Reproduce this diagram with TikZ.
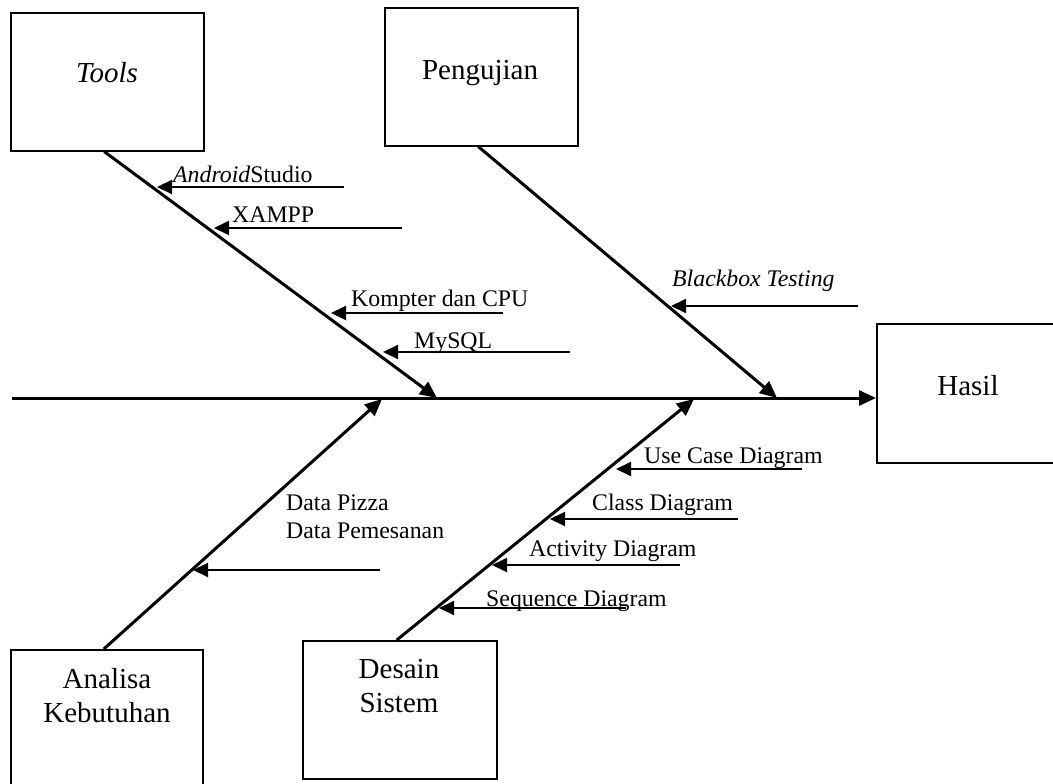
\documentclass[tikz,border=0pt]{standalone}
\usepackage{fontspec}
\setmainfont{Liberation Serif}
\usetikzlibrary{arrows.meta,calc}
\begin{document}
\begin{tikzpicture}[x=1pt,y=-1pt,
  box/.style={draw,line width=1.6pt,inner sep=0pt,anchor=north west},
  bone/.style={line width=3pt,-{Triangle[length=17pt,width=15pt]}},
  sub/.style={line width=2pt,-{Triangle[length=15pt,width=14pt]}},
  lbl/.style={font=\fontsize{23.8}{27}\selectfont,inner sep=0pt,anchor=base west},
  ttl/.style={font=\fontsize{29}{34}\selectfont,inner sep=0pt,anchor=base}]
\useasboundingbox (0,0) rectangle (1053,784);
\clip (0,0) rectangle (1053,784);

% boxes
\node[box,minimum width=193pt,minimum height=138pt] (tools) at (10,12) {};
\node[box,minimum width=193pt,minimum height=138pt] (peng) at (384,7) {};
\node[box,minimum width=190pt,minimum height=139pt] (hasil) at (876,323) {};
\node[box,minimum width=192pt,minimum height=160pt] (analisa) at (10,649) {};
\node[box,minimum width=194pt,minimum height=138pt] (desain) at (302,640) {};

% box texts
\node[ttl] (toolsT) at (107,83) {\itshape Tools};
\node[ttl] (pengT) at (480,80) {Pengujian};
\node[ttl] (hasilT) at (968,395) {Hasil};
\node[ttl] (analisaT1) at (107,688) {Analisa};
\node[ttl] (analisaT2) at (107,722) {Kebutuhan};
\node[ttl] (desainT1) at (399,678) {Desain};
\node[ttl] (desainT2) at (399,712) {Sistem};

% spine
\coordinate (sp) at (12,398);
\draw[bone] (sp) -- (sp -| hasil.west);

% main bones
\coordinate (tTip) at (437,398);
\coordinate (pTip) at (777,398);
\coordinate (aTip) at (382,399);
\coordinate (dTip) at (694,399);
\draw[bone] ($(tools.south)+(-3,0)$) -- (tTip);
\draw[bone] ($(peng.south)+(-3,0)$) -- (pTip);
\draw[bone] ($(analisa.north)+(-3,0)$) -- (aTip);
\draw[bone] ($(desain.north)+(-3,0)$) -- (dTip);

% Tools sub-causes
\coordinate (s1a) at (344,187); \coordinate (s1b) at (157,187);
\coordinate (s2a) at (402,228); \coordinate (s2b) at (214,228);
\coordinate (s3a) at (503,313); \coordinate (s3b) at (331,313);
\coordinate (s4a) at (570,352); \coordinate (s4b) at (383,352);
\draw[sub] (s1a) -- (s1b);
\draw[sub] (s2a) -- (s2b);
\draw[sub] (s3a) -- (s3b);
\draw[sub] (s4a) -- (s4b);
\node[lbl] (l1) at (173,182) {\textit{Android}Studio};
\node[lbl] (l2) at (232,222) {XAMPP};
\node[lbl] (l3) at (351,306) {Kompter dan CPU};
\node[lbl] (l4) at (414,348) {MySQL};

% Pengujian sub-cause
\coordinate (s5a) at (858,306); \coordinate (s5b) at (671,306);
\draw[sub] (s5a) -- (s5b);
\node[lbl] (l5) at (672,286) {\itshape Blackbox Testing};

% Analisa sub-cause
\coordinate (s6a) at (380,570); \coordinate (s6b) at (193,570);
\draw[sub] (s6a) -- (s6b);
\node[lbl] (l6a) at (286,510) {Data Pizza};
\node[lbl] (l6b) at (286,538) {Data Pemesanan};

% Desain sub-causes
\coordinate (s7a) at (802,469); \coordinate (s7b) at (616,469);
\coordinate (s8a) at (738,519); \coordinate (s8b) at (550,519);
\coordinate (s9a) at (680,565); \coordinate (s9b) at (492,565);
\coordinate (s10a) at (626,608); \coordinate (s10b) at (439,608);
\draw[sub] (s7a) -- (s7b);
\draw[sub] (s8a) -- (s8b);
\draw[sub] (s9a) -- (s9b);
\draw[sub] (s10a) -- (s10b);
\node[lbl] (l7) at (644,463) {Use Case Diagram};
\node[lbl] (l8) at (592,510) {Class Diagram};
\node[lbl] (l9) at (529,556) {Activity Diagram};
\node[lbl] (l10) at (486,606) {Sequence Diagram};
\end{tikzpicture}
\end{document}
